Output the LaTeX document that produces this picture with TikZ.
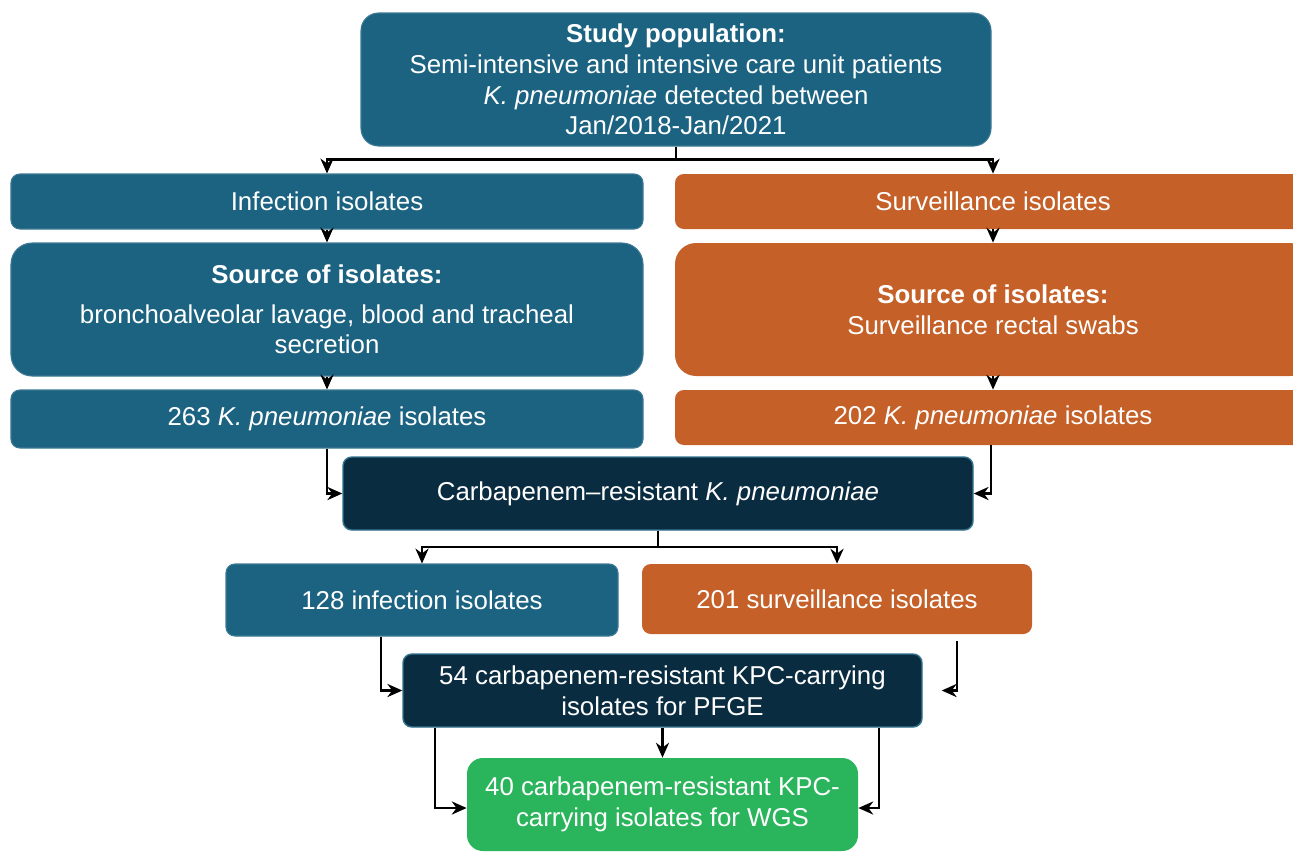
\documentclass[tikz,border=0pt]{standalone}
\usepackage{fontspec}
\setmainfont{Liberation Sans}
\usetikzlibrary{arrows.meta,positioning,calc}

\definecolor{boxteal}{RGB}{28,99,130}
\definecolor{boxorange}{RGB}{196,96,40}
\definecolor{boxnavy}{RGB}{10,44,64}
\definecolor{boxgreen}{RGB}{42,180,92}

\begin{document}
\begin{tikzpicture}[>={Stealth[length=8.5pt,width=7.5pt]},
  font=\fontsize{14.7}{17.5}\selectfont,
  bx/.style={rounded corners=5pt, text=white, align=center, inner sep=2pt},
  tl/.style={bx, fill=boxteal, draw=boxteal!85!white, line width=0.6pt},
  og/.style={bx, fill=boxorange},
  nv/.style={bx, fill=boxnavy, draw=boxteal!90!white, line width=0.8pt},
  gr/.style={bx, fill=boxgreen, rounded corners=9pt},
  ln/.style={line width=1.2pt}]
  \useasboundingbox (0,0) rectangle (25.86,-17.02);

  \node[tl, rounded corners=10pt, minimum width=12.6cm, minimum height=2.66cm]
    (study) at (13.52,-1.59)
    {\textbf{Study population:}\\Semi-intensive and intensive care unit patients\\
     \textit{K. pneumoniae} detected between\\Jan/2018-Jan/2021};

  \node[tl, minimum width=12.64cm, minimum height=1.1cm] (inf) at (6.54,-4.03)
    {Infection isolates};
  \node[og, minimum width=12.72cm, minimum height=1.1cm] (surv) at (19.86,-4.03)
    {Surveillance isolates};

  \node[tl, rounded corners=12pt, minimum width=12.64cm, minimum height=2.66cm]
    (srcL) at (6.54,-6.19)
    {\textbf{Source of isolates:}\\[5pt]bronchoalveolar lavage, blood and tracheal\\secretion};
  \node[og, rounded corners=12pt, minimum width=12.72cm, minimum height=2.66cm]
    (srcR) at (19.86,-6.19)
    {\textbf{Source of isolates:}\\Surveillance rectal swabs};

  \node[tl, minimum width=12.64cm, minimum height=1.16cm] (n263) at (6.54,-8.38)
    {263 \textit{K. pneumoniae} isolates};
  \node[og, minimum width=12.72cm, minimum height=1.1cm] (n202) at (19.86,-8.35)
    {202 \textit{K. pneumoniae} isolates};

  \node[nv, minimum width=12.6cm, minimum height=1.46cm] (carb) at (13.16,-9.87)
    {Carbapenem--resistant \textit{K. pneumoniae}};

  \node[tl, minimum width=7.84cm, minimum height=1.44cm] (n128) at (8.44,-12.0)
    {128 infection isolates};
  \node[og, minimum width=7.8cm, minimum height=1.4cm] (n201) at (16.74,-11.98)
    {201 surveillance isolates};

  \node[nv, minimum width=10.38cm, minimum height=1.46cm] (n54) at (13.25,-13.81)
    {54 carbapenem-resistant KPC-carrying\\isolates for PFGE};

  \node[gr, minimum width=7.82cm, minimum height=1.86cm] (n40) at (13.25,-16.09)
    {40 carbapenem-resistant KPC-\\carrying isolates for WGS};

  % study split
  \coordinate (sj) at ($(study.south)+(0,-0.26)$);
  \draw[ln] (study.south) -- (sj);
  \draw[ln, ->] (sj) -| (inf.north);
  \draw[ln, ->] (sj) -| (surv.north);

  \draw[ln, ->] (inf) -- (srcL);
  \draw[ln, ->] (srcL) -- (n263);
  \draw[ln, ->] (surv) -- (srcR);
  \draw[ln, ->] (srcR) -- (n202);

  \draw[ln, ->] (n263.south) |- (carb.west);
  \draw[ln, ->] ($(n202.south)+(-0.04,0)$) |- (carb.east);

  % carbapenem split
  \coordinate (cj) at ($(carb.south)+(0,-0.32)$);
  \draw[ln] (carb.south) -- (cj);
  \draw[ln, ->] (cj) -| (n128.north);
  \draw[ln, ->] (cj) -| (n201.north);

  \draw[ln, ->] ($(n128.south)+(-0.82,0)$) |- (n54.west);
  \draw[ln, ->] ($(n201.south)+(2.4,-0.14)$) |- ($(n54.east)+(0.38,0)$);

  \draw[ln, ->] (n54) -- (n40);
  \draw[ln, ->] ($(n54.south)+(-4.55,0)$) |- ($(n40.west)+(0,-0.07)$);
  \draw[ln, ->] ($(n54.south)+(4.33,0)$) |- ($(n40.east)+(0,-0.07)$);
\end{tikzpicture}
\end{document}
